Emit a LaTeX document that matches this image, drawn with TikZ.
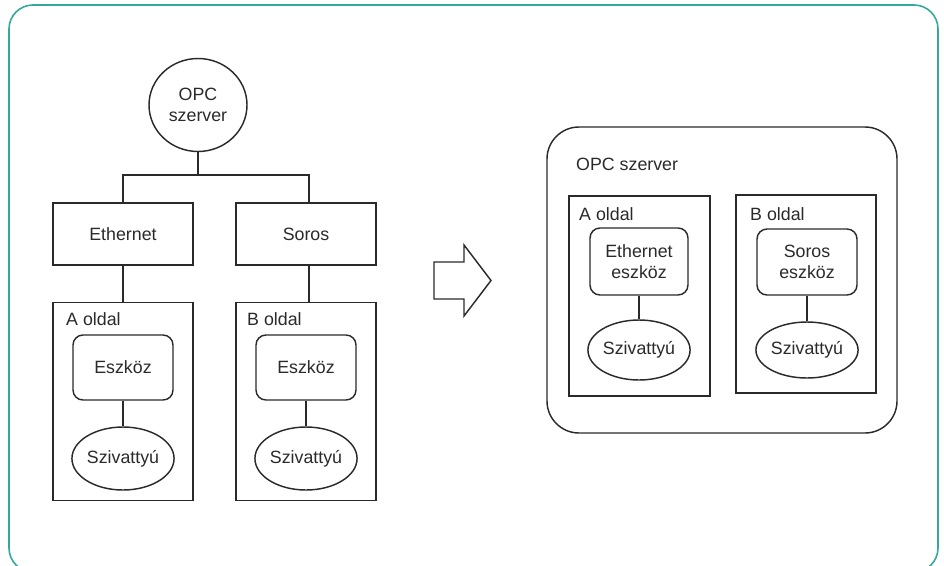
\documentclass[tikz,border=0pt]{standalone}
\usepackage{fontspec}
\setmainfont{Liberation Sans}
\usetikzlibrary{shapes.geometric}
\definecolor{teal1}{HTML}{33A99E}
\definecolor{ink}{HTML}{2A2A2A}
\begin{document}
\begin{tikzpicture}[x=1pt,y=-1pt,
  every node/.style={font=\fontsize{17.8}{21}\selectfont, text=ink},
  ln/.style={draw=ink, line width=1.45pt},
  sqbox/.style={ln, rectangle, inner sep=0pt, align=center},
  rbox/.style={ln, rectangle, rounded corners=10pt, inner sep=0pt, align=center},
  ell/.style={ln, ellipse, inner sep=0pt, align=center},
  lbl/.style={anchor=base west, inner sep=0pt}
]
\useasboundingbox (0,0) rectangle (944,565);
\begin{scope}
\clip (0,0) rectangle (944,565);
\draw[teal1, line width=1.6pt, rounded corners=24pt] (9,5) rectangle (938,572);
\end{scope}

% ---- left diagram ----
\node[ell, minimum width=98pt, minimum height=93pt] (opc) at (198,105) {OPC\\szerver};
\node[sqbox, minimum width=140pt, minimum height=62pt] (eth) at (123,234) {Ethernet};
\node[sqbox, minimum width=140pt, minimum height=62pt] (sor) at (306,234) {Soros};
\coordinate (bar) at (198,175);
\draw[ln] (opc.south) -- (opc.south |- bar);
\draw[ln] (eth.north) |- ([xshift=3pt]sor.north |- bar) -- ([xshift=3pt]sor.north);

\node[sqbox, minimum width=140pt, minimum height=198pt] (aside) at (123,401.5) {};
\node[sqbox, minimum width=140pt, minimum height=198pt] (bside) at (306,401.5) {};
\node[lbl] (alab) at (66,325) {A oldal};
\node[lbl] (blab) at (247,325) {B oldal};
\draw[ln] (eth.south) -- (eth.south |- aside.north);
\draw[ln] ([xshift=3pt]sor.south) -- ([xshift=3pt]sor.south |- bside.north);

\node[rbox, minimum width=100pt, minimum height=65pt] (adev) at (123,367.5) {Eszköz};
\node[rbox, minimum width=100pt, minimum height=65pt] (bdev) at (306,367.5) {Eszköz};
\node[ell, minimum width=94pt, minimum height=63pt] (apump) at (123,458.5) {Szivattyú};
\node[ell, minimum width=94pt, minimum height=63pt] (bpump) at (306,458.5) {Szivattyú};
\draw[ln] (adev.south) -- (apump.north);
\draw[ln] (bdev.south) -- (bpump.north);

% ---- arrow ----
\draw[ln, line join=miter] (434,262) -- (464,262) -- (464,245) -- (491,280.5) -- (464,316) -- (464,299) -- (434,299) -- cycle;

% ---- right diagram ----
\node[ln, rectangle, rounded corners=32pt, minimum width=350pt, minimum height=306pt, inner sep=0pt] (srv) at (722,280) {};
\node[lbl] (srvlab) at (576,170) {OPC szerver};
\node[sqbox, minimum width=141pt, minimum height=200pt] (ra) at (639.5,296) {};
\node[sqbox, minimum width=140pt, minimum height=198pt] (rb) at (806,294) {};
\node[lbl] (ralab) at (579,220) {A oldal};
\node[lbl] (rblab) at (750,220) {B oldal};
\node[rbox, minimum width=98pt, minimum height=67pt] (rethd) at (639,261.5) {Ethernet\\eszköz};
\node[rbox, minimum width=100pt, minimum height=66pt] (rsord) at (807,262) {Soros\\eszköz};
\node[ell, minimum width=94pt, minimum height=60pt] (rapump) at (639,350) {Szivattyú};
\node[ell, minimum width=93pt, minimum height=56pt] (rbpump) at (807,350) {Szivattyú};
\draw[ln] (rethd.south) -- (rapump.north);
\draw[ln] (rsord.south) -- (rbpump.north);
\end{tikzpicture}
\end{document}
